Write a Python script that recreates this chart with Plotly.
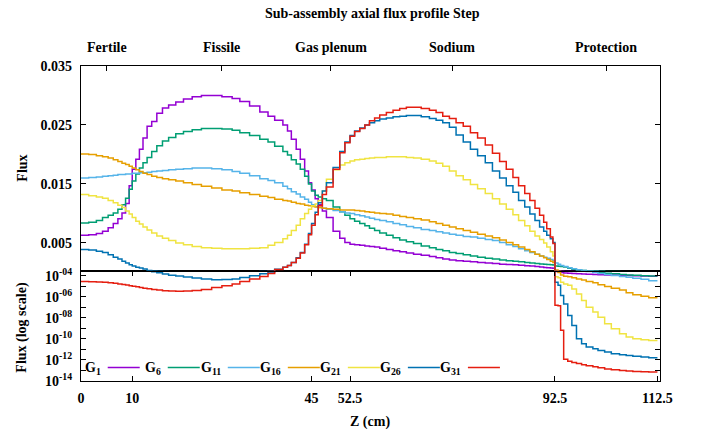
import math
import plotly.graph_objects as go

# ---------------- data ----------------
# mesh cell edges along the sub-assembly (cm)
z_edges = [
    0, 1.5, 3, 4.2, 5.3, 6.3, 7.2, 8, 8.7, 9.4,
    10, 10.7, 11.4, 12.1, 12.9, 13.8, 14.8, 15.9, 17.1, 18.5, 20, 21.7, 23.5, 25.5,
    27.5, 29.5, 31, 32.9, 34.9, 36.5, 37.8, 39.4, 40.3, 41.05, 42, 42.8, 43.65, 44.4,
    45, 45.7, 46.3, 47.1, 47.9, 49.2, 50.5, 51.5,
    52.5, 53.4, 54.4, 55.4, 56.3, 57.3, 58.3, 59.6, 60.9, 62.2, 63.5, 64.9, 66.4, 68,
    69.3, 70.6, 71.9, 73.2, 74.6, 76, 77.4, 78.9, 80.3, 81.7, 83, 84.3, 85.4, 86.6,
    87.6, 88.6, 89.5, 90.3, 90.9, 91.6, 92.1,
    92.5, 93.1, 93.6, 94.2, 95.0, 95.8, 96.7, 97.7, 98.6, 99.9, 100.9, 102.2, 103.5,
    105.1, 106.4, 107.7, 109.3, 110.8,
    112.5,
]

region_names = ["Fertile", "Fissile", "Gas plenum", "Sodium", "Protection"]
region_bounds = [0, 10, 45, 52.5, 92.5, 112.5]
x_tick_vals = [0, 10, 45, 52.5, 92.5, 112.5]
x_tick_text = ["0", "10", "45", "52.5", "92.5", "112.5"]
lin_tick_vals = [0.005, 0.015, 0.025, 0.035]
lin_tick_text = ["0.005", "0.015", "0.025", "0.035"]
log_tick_exps = [-4, -5, -6, -7, -8, -9, -10, -11, -12, -13, -14]

group_labels = ["1", "6", "11", "16", "21", "26", "31"]

g1 = [
    0.0063, 0.0064, 0.0066, 0.0070, 0.0076, 0.0083, 0.0091, 0.0101, 0.0117, 0.0147,
    0.0175, 0.0192, 0.0209, 0.0228, 0.0248, 0.0256, 0.0270, 0.0279, 0.0284, 0.0289,
    0.0294, 0.0298, 0.0300, 0.0300, 0.0298, 0.0295, 0.0290, 0.0282, 0.0272, 0.0265,
    0.0258, 0.0250, 0.0240, 0.0226, 0.0209, 0.0192, 0.0172, 0.0152,
    0.0140, 0.0125, 0.0115, 0.0104, 0.0093, 0.0070, 0.0058, 0.0051,
    0.0048, 0.0047, 0.0046, 0.0045, 0.0044, 0.0043, 0.0041, 0.0039, 0.0037, 0.0035,
    0.0033, 0.0031, 0.0029, 0.0027, 0.0025, 0.0023, 0.0021, 0.0020, 0.0019, 0.0018,
    0.0017, 0.0016, 0.0015, 0.0014, 0.00135, 0.0013, 0.00122, 0.00115, 0.00108, 0.0010,
    0.00092, 0.00086, 0.0008, 0.00074, 0.0007,
    2.5e-4, 2.2e-4, 2.0e-4, 1.85e-4, 1.75e-4, 1.65e-4, 1.55e-4, 1.48e-4, 1.4e-4,
    1.33e-4, 1.27e-4, 1.2e-4, 1.14e-4, 1.08e-4, 1.03e-4, 9.8e-5, 9.4e-5, 9.0e-5,
]
g6 = [
    0.0084, 0.0085, 0.0088, 0.0093, 0.0097, 0.0101, 0.0107, 0.0115, 0.0126, 0.0141,
    0.0155, 0.0167, 0.0177, 0.0186, 0.0195, 0.0205, 0.0215, 0.0223, 0.0229, 0.0235,
    0.0239, 0.0242, 0.0244, 0.0244, 0.0243, 0.0241, 0.0237, 0.0232, 0.0226, 0.0221,
    0.0214, 0.0205, 0.0199, 0.0191, 0.0184, 0.0175, 0.0163, 0.0150,
    0.0138, 0.0131, 0.0128, 0.0125, 0.0122, 0.0111, 0.0103, 0.0097,
    0.0091, 0.0087, 0.0083, 0.0079, 0.0075, 0.0071, 0.0067, 0.0063, 0.0059, 0.0055,
    0.0052, 0.0049, 0.0045, 0.0042, 0.0039, 0.0037, 0.0034, 0.0032, 0.0030, 0.0028,
    0.0026, 0.0024, 0.0023, 0.0021, 0.0020, 0.0019, 0.0018, 0.0017, 0.0016, 0.00152,
    0.00145, 0.0014, 0.00135, 0.0013, 0.00125,
    0.0011, 0.00105, 0.0010, 0.00092, 0.0007, 0.00055, 0.00042, 0.00034, 2.8e-4,
    2.3e-4, 1.95e-4, 1.7e-4, 1.5e-4, 1.32e-4, 1.2e-4, 1.08e-4, 1.0e-4, 9.2e-5,
]
g11 = [
    0.0160, 0.0161, 0.0162, 0.0163, 0.0164, 0.0165, 0.0166, 0.0166, 0.0167, 0.0167,
    0.0168, 0.0168, 0.0169, 0.0169, 0.0170, 0.0171, 0.0172, 0.0173, 0.0174, 0.0175,
    0.0176, 0.0177, 0.0177, 0.0176, 0.0174, 0.0171, 0.0168, 0.0164, 0.0159, 0.0156,
    0.0152, 0.0146, 0.0142, 0.0137, 0.0133, 0.0128, 0.0124, 0.0119,
    0.0115, 0.0112, 0.0110, 0.0109, 0.0107, 0.0105, 0.0103, 0.0101,
    0.0100, 0.0098, 0.0096, 0.0094, 0.0092, 0.0090, 0.0088, 0.0086, 0.0083, 0.0081,
    0.0078, 0.0076, 0.0073, 0.0071, 0.0069, 0.0067, 0.0065, 0.0063, 0.0061, 0.0060,
    0.0058, 0.0056, 0.0054, 0.0051, 0.0047, 0.0044, 0.0040, 0.0037, 0.0034, 0.0031,
    0.0028, 0.0026, 0.0024, 0.0022, 0.0020,
    0.0016, 0.0014, 0.0012, 0.0010, 0.0008, 0.00062, 0.00045, 0.00033, 2.5e-4,
    2.0e-4, 1.6e-4, 1.3e-4, 1.05e-4, 8.5e-5, 7.0e-5, 5.7e-5, 4.5e-5, 3.4e-5,
]
g16 = [
    0.0201, 0.0200, 0.0198, 0.0196, 0.0194, 0.0191, 0.0188, 0.0185, 0.0183, 0.0180,
    0.0177, 0.0174, 0.0171, 0.0168, 0.0166, 0.0163, 0.0161, 0.0159, 0.0157, 0.0155,
    0.0152, 0.0149, 0.0146, 0.0143, 0.0140, 0.0138, 0.0135, 0.0132, 0.0129, 0.0127,
    0.0124, 0.0122, 0.0121, 0.0119, 0.0117, 0.0116, 0.0114, 0.0113,
    0.0112, 0.0111, 0.0110, 0.0109, 0.0108, 0.0107, 0.0106, 0.0106,
    0.0106, 0.0105, 0.0104, 0.0103, 0.0102, 0.0101, 0.0100, 0.0099, 0.0097, 0.0095,
    0.0093, 0.0091, 0.0089, 0.0086, 0.0083, 0.0080, 0.0077, 0.0074, 0.0071, 0.0068,
    0.0065, 0.0062, 0.0059, 0.0055, 0.0051, 0.0047, 0.0043, 0.0039, 0.0035, 0.0031,
    0.0028, 0.0025, 0.0022, 0.0019, 0.0017,
    4.0e-4, 2.0e-4, 1.2e-4, 9.0e-5, 7.8e-5, 6.3e-5, 5.0e-5, 4.0e-5, 2.9e-5,
    2.1e-5, 1.4e-5, 9.5e-6, 6.3e-6, 4.3e-6, 2.4e-6, 1.55e-6, 1.12e-6, 8.3e-7,
]
g21 = [
    0.0132, 0.0130, 0.0128, 0.0126, 0.0122, 0.0118, 0.0114, 0.0110, 0.0104, 0.0099,
    0.0093, 0.0087, 0.0082, 0.0077, 0.0072, 0.0067, 0.0062, 0.0058, 0.0054, 0.0050,
    0.0047, 0.0044, 0.0042, 0.0041, 0.0040, 0.0040, 0.0040, 0.0041, 0.0042, 0.0046,
    0.0051, 0.0057, 0.0063, 0.0071, 0.0080, 0.0091, 0.0100, 0.0107,
    0.0113, 0.0116, 0.0122, 0.0138, 0.0158, 0.0174, 0.0182, 0.0186,
    0.0189, 0.0191, 0.0192, 0.0193, 0.0194, 0.0195, 0.0195, 0.0196, 0.0196, 0.0196,
    0.0195, 0.0194, 0.0192, 0.0189, 0.0185, 0.0180, 0.0172, 0.0164, 0.0157, 0.0149,
    0.0142, 0.0134, 0.0125, 0.0116, 0.0107, 0.0098, 0.0088, 0.0079, 0.0070, 0.0062,
    0.0056, 0.0050, 0.0043, 0.0035, 0.0028,
    7.9e-5, 6.3e-5, 2.4e-5, 1.66e-5, 1.26e-5, 5.6e-6, 1.86e-6, 4.4e-7, 1.02e-7,
    3.5e-8, 1.15e-8, 2.7e-9, 9.1e-10, 3.0e-10, 1.48e-10, 1.02e-10, 8.3e-11, 7.2e-11,
]
g26 = [
    0.0039, 0.0038, 0.0036, 0.0034, 0.0030, 0.0026, 0.0023, 0.0019, 0.0016, 0.0013,
    0.0011, 0.0009, 0.00075, 0.0006, 3.2e-4, 2.4e-4, 1.9e-4, 1.48e-4, 1.12e-4, 9.5e-5,
    7.6e-5, 6.0e-5, 4.8e-5, 4.1e-5, 4.3e-5, 5.0e-5, 6.9e-5, 1.0e-4, 1.5e-4, 2.2e-4,
    0.00055, 0.0009, 0.0012, 0.0017, 0.0025, 0.0034, 0.0048, 0.0066,
    0.0083, 0.0102, 0.0118, 0.0138, 0.0152, 0.0178, 0.0205, 0.0221,
    0.0232, 0.0240, 0.0245, 0.0250, 0.0254, 0.0257, 0.0260, 0.0262, 0.0264, 0.0265,
    0.0266, 0.0266, 0.0264, 0.0261, 0.0258, 0.0254, 0.0246, 0.0233, 0.0221, 0.0209,
    0.0198, 0.0186, 0.0172, 0.0160, 0.0147, 0.0136, 0.0122, 0.0111, 0.0099, 0.0088,
    0.0077, 0.0070, 0.0063, 0.0057, 0.0051,
    2.4e-5, 1.26e-5, 1.32e-6, 2.1e-7, 1.7e-8, 1.9e-9, 1.02e-10, 3.5e-11, 1.66e-11,
    1.15e-11, 8.1e-12, 5.6e-12, 3.9e-12, 3.2e-12, 2.7e-12, 2.3e-12, 1.9e-12, 1.6e-12,
]
g31 = [
    2.8e-5, 2.7e-5, 2.5e-5, 2.4e-5, 2.2e-5, 1.9e-5, 1.66e-5, 1.5e-5, 1.32e-5, 1.12e-5,
    1.0e-5, 8.9e-6, 7.6e-6, 6.6e-6, 5.75e-6, 4.9e-6, 4.4e-6, 3.8e-6, 3.55e-6, 3.4e-6,
    3.5e-6, 3.9e-6, 5.0e-6, 7.6e-6, 1.12e-5, 1.66e-5, 2.8e-5, 5.0e-5, 8.3e-5, 1.6e-4,
    0.0005, 0.0009, 0.0012, 0.0017, 0.0024, 0.0033, 0.0047, 0.0064,
    0.0080, 0.0098, 0.0113, 0.0132, 0.0145, 0.0175, 0.0203, 0.0220,
    0.0231, 0.0239, 0.0244, 0.0250, 0.0257, 0.0262, 0.0267, 0.0271, 0.0275, 0.0278,
    0.0280, 0.0280, 0.0278, 0.0275, 0.0271, 0.0265, 0.0261, 0.0254, 0.0248, 0.0237,
    0.0228, 0.0216, 0.0202, 0.0188, 0.0175, 0.0161, 0.0147, 0.0134, 0.0122, 0.0109,
    0.0097, 0.0085, 0.0074, 0.0060, 0.0049,
    1.6e-7, 1.4e-7, 6.5e-10, 1.15e-12, 7.4e-13, 5.6e-13, 4.5e-13, 3.5e-13, 2.8e-13,
    2.2e-13, 1.8e-13, 1.4e-13, 1.2e-13, 1.0e-13, 8.9e-14, 7.9e-14, 7.4e-14, 7.1e-14,
]

series = [g1, g6, g11, g16, g21, g26, g31]

# ---------------- style ----------------
colors = ["#9400D3", "#009E73", "#56B4E9", "#E69F00", "#F0E442", "#0072B2", "#E51E10"]
FONT = "Liberation Serif"
W, H = 702, 438
L_PX, R_PX, T_PX, B_PX = 81.3, 660.0, 66.0, 381.0
SPLIT_PX = 270.7
PW, PH = R_PX - L_PX, B_PX - T_PX
split = (B_PX - SPLIT_PX) / PH
lin_range = [0.0003, 0.035]
log_range = [-14, math.log10(3e-4)]
x_range = [0, 113]
LINE_W = 1.5


def px_x(px):
    return (px - L_PX) / PW


def px_y(py):
    return (B_PX - py) / PH


fig = go.Figure()
for vals, col in zip(series, colors):
    yy = list(vals) + [vals[-1]]
    fig.add_trace(go.Scatter(x=z_edges, y=yy, mode="lines", line=dict(color=col, width=LINE_W, shape="hv"),
                             xaxis="x", yaxis="y", showlegend=False, hoverinfo="skip"))
    fig.add_trace(go.Scatter(x=z_edges, y=yy, mode="lines", line=dict(color=col, width=LINE_W, shape="hv"),
                             xaxis="x2", yaxis="y2", showlegend=False, hoverinfo="skip"))

tick_font = dict(family=FONT, size=14, color="black", weight="bold")
axis_common = dict(showline=True, linecolor="black", linewidth=1.2, ticks="inside", ticklen=5,
                   tickcolor="black", tickwidth=1, showgrid=False, zeroline=False, tickfont=tick_font)

region_mids = [(a + b) / 2 for a, b in zip(region_bounds[:-1], region_bounds[1:])]

fig.update_layout(
    width=W, height=H,
    margin=dict(l=L_PX, r=W - R_PX, t=T_PX, b=H - B_PX),
    paper_bgcolor="white", plot_bgcolor="white", showlegend=False,
    font=dict(family=FONT, size=14, color="black"),
    xaxis=dict(domain=[0, 1], anchor="y", range=x_range, tickmode="array", tickvals=x_tick_vals,
               ticktext=x_tick_text, mirror="ticks", ticklabelstandoff=4, **axis_common),
    xaxis2=dict(domain=[0, 1], anchor="y2", range=x_range, side="top", tickmode="array",
                tickvals=region_mids, showticklabels=False, mirror=True, **axis_common),
    yaxis=dict(domain=[0, split], anchor="x", type="log", range=log_range, tickmode="array",
               tickvals=[10.0 ** e for e in log_tick_exps],
               ticktext=[("10<sup>-%02d</sup>" % (-e)) if e % 2 == 0 else "" for e in log_tick_exps],
               mirror="ticks", ticklabelstandoff=5, **axis_common),
    yaxis2=dict(domain=[split, 1], anchor="x2", range=lin_range, tickmode="array",
                tickvals=lin_tick_vals, ticktext=lin_tick_text, mirror="ticks",
                ticklabelstandoff=5, **axis_common),
)

bold = dict(family=FONT, size=14, color="black", weight="bold")
ann = []
ann.append(dict(text="Sub-assembly axial flux profile Step", xref="paper", yref="paper",
                x=px_x(373), y=px_y(14), showarrow=False, font=bold, xanchor="center", yanchor="middle"))
for name, mid in zip(region_names, region_mids):
    ann.append(dict(text=name, xref="x2", yref="paper", x=mid, y=px_y(47), showarrow=False,
                    font=bold, xanchor="center", yanchor="middle"))
ann.append(dict(text="Flux", xref="paper", yref="paper", x=px_x(22), y=px_y(168), textangle=-90,
                showarrow=False, font=bold, xanchor="center", yanchor="middle"))
ann.append(dict(text="Flux (log scale)", xref="paper", yref="paper", x=px_x(22), y=px_y(327),
                textangle=-90, showarrow=False, font=bold, xanchor="center", yanchor="middle"))
ann.append(dict(text="Z (cm)", xref="paper", yref="paper", x=px_x(370), y=px_y(422),
                showarrow=False, font=bold, xanchor="center", yanchor="middle"))

shapes = []
for i, (g, col) in enumerate(zip(group_labels, colors)):
    ann.append(dict(text="G<sub>%s</sub>" % g, xref="paper", yref="paper", x=px_x(103 + 60 * i),
                    y=px_y(368), showarrow=False, font=bold, xanchor="right", yanchor="middle"))
    shapes.append(dict(type="line", xref="paper", yref="paper", x0=px_x(108 + 60 * i),
                       x1=px_x(140 + 60 * i), y0=px_y(367.5), y1=px_y(367.5),
                       line=dict(color=col, width=LINE_W)))

fig.update_layout(annotations=ann, shapes=shapes)
fig.write_html("out.html", config={"displayModeBar": False},
               post_script="document.body.style.margin='0px';document.body.style.overflow='hidden';")
